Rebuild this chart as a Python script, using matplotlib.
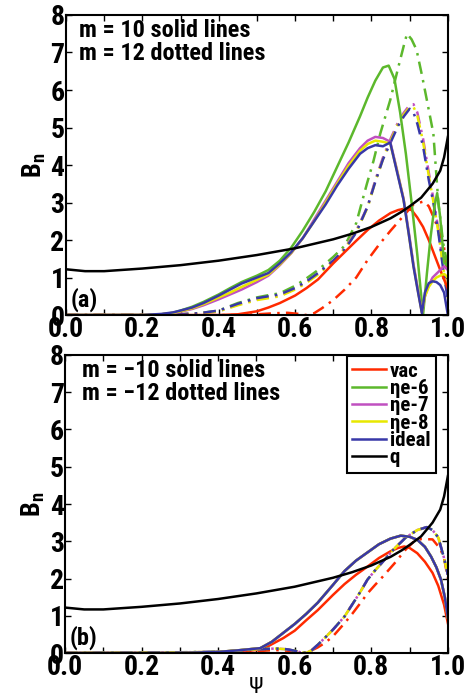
import matplotlib
matplotlib.use('Agg')
import matplotlib.pyplot as plt
from matplotlib.ticker import MultipleLocator

plt.rcParams['font.family'] = ['Roboto Condensed', 'DejaVu Sans']
plt.rcParams['font.weight'] = 'bold'
plt.rcParams['mathtext.fontset'] = 'custom'
plt.rcParams['mathtext.rm'] = 'Roboto Condensed:bold'

# colours
RED = '#ff2a00'
GREEN = '#5cb82c'
MAGENTA = '#c050c0'
YELLOW = '#e8e800'
BLUE = '#3838a8'

# safety factor q (same in both panels)
q_psi = [0.0, 0.05, 0.1, 0.2, 0.3, 0.4, 0.5, 0.6, 0.7, 0.75, 0.8, 0.85, 0.88, 0.9, 0.93, 0.96, 0.98, 0.99, 1.0]
q_val = [1.22, 1.17, 1.17, 1.24, 1.33, 1.45, 1.6, 1.78, 2.02, 2.17, 2.35, 2.58, 2.76, 2.9, 3.13, 3.5, 3.85, 4.2, 4.75]

# ---- panel (a): m = 10 solid, m = 12 dash-dot ----
a_green_psi = [0, 0.2, 0.25, 0.28, 0.3, 0.33, 0.36, 0.4, 0.43, 0.46, 0.5, 0.53, 0.56, 0.59, 0.62, 0.65, 0.68,
               0.71, 0.74, 0.77, 0.79, 0.81, 0.83, 0.845, 0.86, 0.875, 0.89, 0.905, 0.92, 0.935, 0.945, 0.955,
               0.965, 0.972, 0.98, 0.99, 1.0]
a_green_val = [0, 0, 0.02, 0.06, 0.12, 0.22, 0.35, 0.55, 0.72, 0.88, 1.05, 1.2, 1.45, 1.8, 2.25, 2.75, 3.3,
               3.95, 4.6, 5.3, 5.8, 6.25, 6.6, 6.65, 6.3, 5.4, 4.3, 3.0, 1.6, 0.0, 1.1, 2.1,
               2.9, 3.25, 2.6, 1.4, 1.3]

a_solid_psi = [0, 0.2, 0.25, 0.28, 0.3, 0.33, 0.36, 0.4, 0.43, 0.46, 0.5, 0.53, 0.56, 0.59, 0.62, 0.65, 0.68,
               0.71, 0.74, 0.77, 0.79, 0.81, 0.83, 0.849, 0.866, 0.884, 0.897, 0.91, 0.922, 0.932, 0.94, 0.95,
               0.96, 0.97, 0.98, 0.99, 1.0]
a_blue_val = [0, 0, 0.03, 0.07, 0.12, 0.2, 0.32, 0.52, 0.68, 0.84, 1.0, 1.12, 1.38, 1.68, 2.05, 2.5, 2.95,
              3.45, 3.9, 4.3, 4.45, 4.53, 4.5, 4.6, 3.85, 3.07, 2.2, 1.29, 0.6, 0.05, 0.6, 0.85,
              0.9, 0.88, 0.8, 0.6, 0.0]
a_mag_val = [0, 0, 0.02, 0.05, 0.09, 0.16, 0.26, 0.42, 0.55, 0.68, 0.88, 1.05, 1.33, 1.65, 2.05, 2.55, 3.05,
             3.55, 4.05, 4.45, 4.65, 4.75, 4.72, 4.62, 3.9, 3.1, 2.25, 1.35, 0.65, 0.08, 0.5, 0.8,
             1.0, 1.1, 1.2, 1.3, 1.2]
a_yel_val = [0, 0, 0.02, 0.06, 0.1, 0.18, 0.29, 0.47, 0.6, 0.75, 0.94, 1.08, 1.35, 1.66, 2.05, 2.5, 3.0,
             3.5, 3.98, 4.38, 4.56, 4.65, 4.62, 4.57, 3.88, 3.08, 2.2, 1.3, 0.62, 0.06, 0.5, 0.75,
             0.9, 1.0, 1.05, 1.1, 1.0]

a_dash_psi = [0, 0.2, 0.3, 0.35, 0.4, 0.45, 0.5, 0.53, 0.56, 0.6, 0.63, 0.66, 0.7, 0.73, 0.76, 0.79, 0.81,
              0.83, 0.85, 0.87, 0.885, 0.9, 0.91, 0.92, 0.935, 0.95, 0.962, 0.975, 0.988, 1.0]
a_blue_dash = [0, 0, 0.02, 0.05, 0.12, 0.3, 0.45, 0.5, 0.55, 0.72, 0.9, 1.12, 1.45, 1.75, 2.2, 2.9, 3.55,
               4.15, 4.6, 5.05, 5.3, 5.5, 5.4, 5.1, 4.5, 3.6, 3.0, 2.2, 1.2, 0.4]
a_mag_dash = [0, 0, 0.02, 0.04, 0.1, 0.28, 0.42, 0.47, 0.52, 0.7, 0.88, 1.1, 1.45, 1.78, 2.25, 2.9, 3.6,
              4.2, 4.7, 5.15, 5.4, 5.6, 5.62, 5.4, 4.7, 3.8, 3.1, 2.3, 1.3, 0.5]
a_yel_dash = [0, 0, 0.02, 0.04, 0.1, 0.26, 0.4, 0.45, 0.5, 0.68, 0.86, 1.08, 1.43, 1.76, 2.22, 2.87, 3.56,
              4.15, 4.65, 5.1, 5.35, 5.55, 5.55, 5.32, 4.62, 3.72, 3.02, 2.22, 1.25, 0.45]

a_green_dash_psi = [0, 0.2, 0.3, 0.35, 0.4, 0.45, 0.5, 0.53, 0.56, 0.6, 0.63, 0.66, 0.7, 0.73, 0.76, 0.788,
                    0.805, 0.823, 0.849, 0.87, 0.885, 0.893, 0.905, 0.918, 0.932, 0.945, 0.962, 0.975, 0.988, 1.0]
a_green_dash_val = [0, 0, 0.02, 0.05, 0.12, 0.32, 0.47, 0.53, 0.58, 0.78, 0.98, 1.2, 1.55, 1.85, 2.45, 3.5,
                    4.1, 4.84, 5.73, 6.6, 7.2, 7.5, 7.35, 7.07, 6.4, 5.73, 4.84, 3.0, 1.9, 1.29]

a_red_psi = [0, 0.35, 0.4, 0.45, 0.5, 0.53, 0.56, 0.6, 0.63, 0.66, 0.7, 0.73, 0.76, 0.79, 0.82, 0.85, 0.87,
             0.888, 0.905, 0.92, 0.935, 0.95, 0.965, 0.98, 0.99, 1.0]
a_red_val = [0, 0, 0.0, 0.02, 0.1, 0.2, 0.32, 0.52, 0.72, 0.95, 1.38, 1.68, 1.98, 2.27, 2.52, 2.72, 2.8,
             2.84, 2.8, 2.6, 2.35, 2.0, 1.6, 1.2, 0.95, 0.7]

a_red_dash_psi = [0, 0.45, 0.5, 0.55, 0.58, 0.61, 0.63, 0.65, 0.67, 0.7, 0.73, 0.76, 0.79, 0.82, 0.85, 0.88,
                  0.91, 0.937, 0.95, 0.962, 0.975, 0.99, 1.0]
a_red_dash_val = [0, 0, 0.02, 0.05, 0.06, 0.03, 0.0, 0.05, 0.18, 0.4, 0.68, 1.0, 1.47, 1.88, 2.25, 2.6,
                  2.95, 3.03, 2.9, 2.62, 2.3, 1.8, 1.0]

# ---- panel (b): m = -10 solid, m = -12 dash-dot ----
b_blue_psi = [0, 0.3, 0.4, 0.45, 0.48, 0.51, 0.54, 0.57, 0.6, 0.63, 0.66, 0.7, 0.73, 0.76, 0.79, 0.82, 0.85,
              0.877, 0.9, 0.92, 0.94, 0.956, 0.97, 0.982, 0.992, 1.0]
b_blue_val = [0, 0, 0.03, 0.07, 0.1, 0.13, 0.3, 0.54, 0.78, 1.05, 1.35, 1.83, 2.2, 2.48, 2.7, 2.92, 3.07,
              3.15, 3.12, 3.04, 2.85, 2.59, 2.3, 1.97, 1.5, 0.95]

b_red_psi = [0, 0.4, 0.45, 0.5, 0.53, 0.57, 0.6, 0.63, 0.66, 0.7, 0.73, 0.76, 0.79, 0.82, 0.85, 0.87, 0.886,
             0.9, 0.92, 0.94, 0.96, 0.975, 0.99, 1.0]
b_red_val = [0, 0, 0.03, 0.08, 0.18, 0.4, 0.6, 0.88, 1.15, 1.56, 1.85, 2.1, 2.32, 2.55, 2.73, 2.82, 2.86,
             2.82, 2.68, 2.45, 2.15, 1.8, 1.3, 0.8]

b_dash_psi = [0, 0.3, 0.4, 0.45, 0.5, 0.55, 0.58, 0.6, 0.615, 0.63, 0.645, 0.66, 0.68, 0.7, 0.73, 0.75, 0.77,
              0.79, 0.81, 0.83, 0.86, 0.89, 0.92, 0.945, 0.96, 0.975, 0.99, 1.0]
b_dash_val = [0, 0.02, 0.03, 0.06, 0.1, 0.12, 0.1, 0.06, 0.02, 0.0, 0.08, 0.22, 0.42, 0.63, 0.98, 1.3, 1.62,
              1.97, 2.22, 2.45, 2.8, 3.1, 3.3, 3.38, 3.3, 3.1, 2.55, 2.1]

b_red_dash_psi = [0, 0.4, 0.5, 0.55, 0.6, 0.63, 0.66, 0.68, 0.7, 0.73, 0.75, 0.77, 0.79, 0.81, 0.83, 0.86,
                  0.89, 0.91, 0.93, 0.96, 0.98, 0.99, 1.0]
b_red_dash_val = [0, 0, 0.05, 0.08, 0.05, 0.0, 0.15, 0.28, 0.45, 0.8, 1.05, 1.32, 1.6, 1.83, 2.05, 2.4,
                  2.78, 2.98, 3.06, 3.05, 2.8, 2.55, 2.0]

legend_labels = ['vac', '\u03b7e-6', '\u03b7e-7', '\u03b7e-8', 'ideal', 'q']
x_labels = ['0.0', '0.2', '0.4', '0.6', '0.8', '1.0']

LW = 1.8
DASH = (0, (5, 2.5, 1, 2.5))

fig = plt.figure(figsize=(4.68, 6.97), dpi=100)
ax_a = fig.add_axes([0.141, 0.548, 0.816, 0.4305])
ax_b = fig.add_axes([0.139, 0.0631, 0.818, 0.4276])


def style_axes(ax):
    ax.set_xlim(0, 1)
    ax.set_ylim(0, 8)
    ax.set_xticks([0, 0.2, 0.4, 0.6, 0.8, 1.0])
    ax.set_xticklabels(x_labels)
    ax.xaxis.set_minor_locator(MultipleLocator(0.1))
    ax.yaxis.set_major_locator(MultipleLocator(1))
    ax.tick_params(which='both', direction='in', top=True, right=True, labelsize=20, pad=1)
    ax.tick_params(which='major', length=4, width=1)
    ax.tick_params(which='minor', length=4, width=1)
    for sp in ax.spines.values():
        sp.set_linewidth(1.5)
    for lab in ax.get_xticklabels() + ax.get_yticklabels():
        lab.set_fontweight('bold')
    ax.set_ylabel('B$_\\mathregular{n}$', fontsize=19, fontweight='bold', labelpad=2)


# panel (a)
ax = ax_a
ax.plot(a_red_dash_psi, a_red_dash_val, color=RED, lw=LW, ls=DASH)
ax.plot(a_green_dash_psi, a_green_dash_val, color=GREEN, lw=LW, ls=DASH)
ax.plot(a_dash_psi, a_mag_dash, color=MAGENTA, lw=LW, ls=DASH)
ax.plot(a_dash_psi, a_yel_dash, color=YELLOW, lw=LW, ls=DASH)
ax.plot(a_dash_psi, a_blue_dash, color=BLUE, lw=LW, ls=DASH)
ax.plot(a_red_psi, a_red_val, color=RED, lw=LW)
ax.plot(a_green_psi, a_green_val, color=GREEN, lw=LW)
ax.plot(a_solid_psi, a_mag_val, color=MAGENTA, lw=LW)
ax.plot(a_solid_psi, a_yel_val, color=YELLOW, lw=LW)
ax.plot(a_solid_psi, a_blue_val, color=BLUE, lw=LW)
ax.plot(q_psi, q_val, color='black', lw=LW)
style_axes(ax)
ax.text(0.035, 0.985, 'm = 10 solid lines\nm = 12 dotted lines', transform=ax.transAxes,
        fontsize=17.5, fontweight='bold', va='top', ha='left', linespacing=1.0)
ax.text(0.012, 0.01, '(a)', transform=ax.transAxes, fontsize=17.5, fontweight='bold', va='bottom')

# panel (b)
ax = ax_b
h_red, = ax.plot(b_red_psi, b_red_val, color=RED, lw=LW)
ax.plot(b_red_dash_psi, b_red_dash_val, color=RED, lw=LW, ls=DASH)
ax.plot(b_dash_psi, b_dash_val, color=GREEN, lw=LW, ls=DASH)
ax.plot(b_dash_psi, b_dash_val, color=MAGENTA, lw=LW, ls=(2, (5, 2.5, 1, 2.5)))
ax.plot(b_dash_psi, b_dash_val, color=YELLOW, lw=LW, ls=(4, (5, 2.5, 1, 2.5)))
ax.plot(b_dash_psi, b_dash_val, color=BLUE, lw=LW, ls=DASH)
h_green, = ax.plot(b_blue_psi, b_blue_val, color=GREEN, lw=LW)
h_mag, = ax.plot(b_blue_psi, b_blue_val, color=MAGENTA, lw=LW)
h_yel, = ax.plot(b_blue_psi, b_blue_val, color=YELLOW, lw=LW)
h_blue, = ax.plot(b_blue_psi, b_blue_val, color=BLUE, lw=LW)
h_q, = ax.plot(q_psi, q_val, color='black', lw=LW)
style_axes(ax)
ax.set_xlabel('\u03c8', fontsize=16, labelpad=-6, family=['DejaVu Sans'])
ax.text(0.045, 0.985, 'm = \u221210 solid lines\nm = \u221212 dotted lines', transform=ax.transAxes,
        fontsize=17.5, fontweight='bold', va='top', ha='left', linespacing=1.0)
ax.text(0.012, 0.01, '(b)', transform=ax.transAxes, fontsize=17.5, fontweight='bold', va='bottom')
leg = ax.legend([h_red, h_green, h_mag, h_yel, h_blue, h_q], legend_labels,
                loc='upper right', bbox_to_anchor=(0.968, 0.995), fontsize=15,
                labelspacing=-0.08, handlelength=1.6, handletextpad=0.2, borderpad=0.25,
                borderaxespad=0.0, fancybox=False, framealpha=1, edgecolor='black')
leg.get_frame().set_linewidth(1.5)
for t in leg.get_texts():
    t.set_fontweight('bold')

fig.savefig('out.png', dpi=100)
